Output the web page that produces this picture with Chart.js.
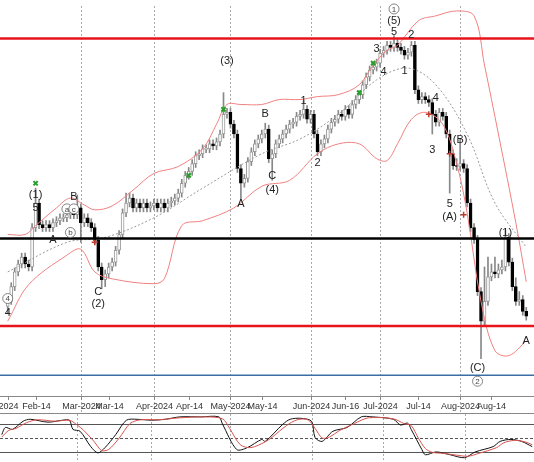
<!DOCTYPE html>
<html><head><meta charset="utf-8">
<script src="https://cdn.jsdelivr.net/npm/chart.js@4/dist/chart.umd.min.js"></script>
<style>body{margin:0;background:#fff;overflow:hidden}#a{position:absolute;left:0;top:0}#b{position:absolute;left:0;top:414px}</style>
</head><body>
<div id="a" style="width:534px;height:414px"><canvas id="c1"></canvas></div>
<div id="b" style="width:534px;height:48px"><canvas id="c2"></canvas></div>
<script>
// Price values are in chart units where larger = lower on the picture (axis reversed)
const opens =[305,300,285,270,262,255,262,265,225,200,222,225,222,225,220,218,215,215,212,210,212,205,220,215,220,225,238,265,278,272,265,260,248,232,210,200,195,205,200,205,200,205,203,200,205,200,205,200,198,195,190,180,172,168,160,152,150,145,145,140,142,138,130,110,108,120,130,165,180,175,158,148,140,135,130,125,155,150,140,135,130,125,120,118,112,110,105,115,110,130,148,140,135,125,118,115,110,112,105,110,100,95,90,80,72,65,62,58,48,45,40,42,38,42,45,50,47,40,85,95,92,95,98,110,118,108,112,130,150,162,163,160,165,200,225,237,290,320,300,275,270,272,268,265,235,260,285,300,298,310];
const closes=[300,285,270,262,255,262,265,225,200,222,225,222,225,220,218,215,215,212,210,212,205,220,215,220,225,238,265,278,272,265,260,248,232,210,200,195,205,200,205,200,205,203,200,205,200,205,200,198,195,190,180,172,168,160,152,150,145,145,140,142,138,130,110,108,120,130,165,180,175,158,148,140,135,130,125,155,150,140,135,130,125,120,118,112,110,105,115,110,130,148,140,135,125,118,115,110,112,105,110,100,95,90,80,72,65,62,58,48,45,40,42,38,42,45,50,47,40,85,95,92,95,98,110,118,108,112,130,150,162,163,160,165,200,225,237,290,320,300,275,270,272,268,265,235,260,285,300,298,310,315];
const highs =[296,281,266,258,251,251,258,221,185,196,218,218,218,216,214,211,211,208,206,206,192,201,211,211,216,221,234,261,268,261,256,244,228,206,190,190,191,196,196,196,196,199,196,196,196,196,196,194,191,186,176,168,164,156,148,146,141,141,136,136,134,126,88,104,104,116,126,161,171,154,144,136,131,126,119,121,146,136,131,126,121,116,114,108,106,96,101,106,106,126,136,131,121,114,111,106,106,101,101,96,91,86,76,68,61,58,54,44,41,36,36,30,34,38,41,43,36,36,81,88,88,91,94,106,104,104,108,126,146,155,135,156,161,196,221,233,286,265,255,262,255,262,258,228,231,256,276,290,294,306];
const lows  =[312,303,289,274,266,266,269,269,229,226,229,229,229,229,224,222,219,219,216,216,216,240,224,224,229,242,269,287,285,276,269,264,252,236,214,204,209,209,209,209,209,209,207,209,209,209,209,204,202,199,194,184,176,172,164,156,154,149,149,146,146,142,134,114,124,134,169,197,184,179,162,152,144,139,134,159,177,154,144,139,134,129,124,122,116,114,119,119,134,152,152,144,139,129,122,119,116,116,114,114,104,99,94,84,76,69,66,62,52,49,46,46,46,49,54,54,51,89,99,99,99,102,130,122,122,116,134,190,166,167,167,169,204,229,241,294,358,324,304,279,276,276,272,269,264,289,304,304,314,319];
const upperBand=[[0,232],[5,232],[8,223],[14,205],[18,195],[22,202],[25,207],[30,203],[36,187],[42,170],[49,163],[56,145],[60,120],[63,100],[67,100],[73,100],[78,95],[84,95],[89,92],[95,90],[101,80],[105,60],[109,45],[112,40],[118,15],[123,10],[129,5],[134,10],[137,60],[141,130],[146,220],[149,280]];
const lowerBand=[[0,320],[6,283],[17,253],[21,247],[25,270],[30,277],[42,282],[45,277],[50,223],[56,218],[65,205],[73,183],[81,177],[89,150],[95,140],[101,140],[106,155],[109,157],[112,140],[116,115],[120,108],[125,120],[129,160],[132,210],[136,300],[140,350],[144,355],[149,340]];
const midBand=[[0,270],[17,240],[28,235],[42,215],[56,185],[73,150],[84,135],[95,110],[106,75],[115,63],[123,80],[132,130],[140,200],[149,245]];
const levels=[{y:33,c:'#e8141c',w:2.5},{y:236,c:'#000',w:2.5},{y:325,c:'#e8141c',w:2.5},{y:375,c:'#3a6ea5',w:1.5}];
const monthIdx=[21,42,64,87,107,130];
const tickIdx=[0,8,21,29,42,52,64,73,87,97,107,118,130,139];
const tickText=['2024','Feb-14','Mar-2024','Mar-14','Apr-2024','Apr-14','May-2024','May-14','Jun-2024','Jun-16','Jul-2024','Jul-14','Aug-2024','Aug-14'];
const waveLabels=[[0,297,'4',1],[0,312,'4',0],[8,192,'(1)',0],[8,205,'5',0],[13,238,'A',0],[19,194,'B',0],[17,206,'a',1],[19,206,'c',1],[18,230,'b',1],[26,290,'C',0],[26,303,'(2)',0],[63,56,'(3)',0],[67,201,'A',0],[74,110,'B',0],[76,173,'C',0],[76,187,'(4)',0],[85,96,'1',0],[89,159,'2',0],[106,44,'3',0],[108,67,'4',0],[111,26,'5',0],[111,15,'(5)',0],[111,3,'1',1],[116,29,'2',0],[114,66,'1',0],[123,93,'4',0],[122,146,'3',0],[130,136,'(B)',0],[127,201,'5',0],[127,214,'(A)',0],[135,368,'(C)',0],[135,381,'2',1],[143,230,'(1)',0],[149,340,'A',0]];
const greenMarks=[[8,180],[52,172],[62,105],[101,88],[105,58]];
const redMarks=[[25,240],[121,110],[127,150],[131,212]];
const stochK=[[0,57],[1,72],[3,68],[6,85],[8,89],[13,83],[17,87],[19,87],[20,68],[22,64],[25,32],[27,19],[29,30],[32,57],[35,87],[38,89],[42,87],[46,89],[50,94],[56,94],[61,94],[62,79],[66,26],[69,30],[73,47],[74,43],[79,79],[81,89],[84,91],[87,85],[88,51],[90,43],[93,64],[97,72],[101,94],[104,94],[110,89],[112,77],[114,81],[115,68],[118,26],[119,15],[122,21],[126,15],[130,9],[133,21],[138,32],[140,43],[143,47],[146,43],[149,32]];
const stochD=[[0,52],[2,66],[4,70],[7,82],[10,88],[15,85],[19,87],[21,78],[23,66],[26,42],[28,24],[30,26],[33,50],[36,80],[39,88],[44,88],[50,92],[57,94],[62,90],[64,70],[67,36],[70,30],[74,42],[76,52],[80,76],[83,88],[86,88],[88,70],[90,50],[92,52],[95,66],[99,80],[103,92],[110,90],[113,80],[115,76],[117,50],[119,28],[121,20],[124,18],[128,14],[131,12],[134,18],[139,30],[141,40],[144,45],[147,42],[149,36]];

const N=closes.length;
const cats=Array.from({length:N},(_,i)=>i);
const pts=a=>a.map(p=>({x:p[0],y:p[1]}));
const isUp=i=>closes[i]<=opens[i];

const overlay={id:'ov',
 beforeDatasetsDraw(ch){const {ctx,chartArea:ca,scales:{x,y}}=ch;ctx.save();
  ctx.strokeStyle='#aaa';ctx.lineWidth=1;ctx.setLineDash([2,2]);
  monthIdx.forEach(m=>{const px=Math.round(x.getPixelForValue(m))+0.5;ctx.beginPath();ctx.moveTo(px,ca.top);ctx.lineTo(px,ch.height);ctx.stroke();});
  ctx.restore();},
 afterDatasetsDraw(ch){const {ctx,chartArea:ca,scales:{x,y}}=ch;ctx.save();
  levels.forEach(l=>{const py=y.getPixelForValue(l.y);ctx.strokeStyle=l.c;ctx.lineWidth=l.w;ctx.beginPath();ctx.moveTo(0,py);ctx.lineTo(ch.width,py);ctx.stroke();});
  ctx.textAlign='center';ctx.textBaseline='middle';
  waveLabels.forEach(w=>{const px=x.getPixelForValue(w[0]),py=y.getPixelForValue(w[1]);
   if(w[3]){ctx.font='8px Arial';ctx.fillStyle='#fff';ctx.strokeStyle='#666';ctx.lineWidth=0.8;ctx.beginPath();ctx.arc(px,py,5,0,Math.PI*2);ctx.fill();ctx.stroke();ctx.fillStyle='#444';ctx.fillText(w[2],px,py+0.5);}
   else{ctx.font='11px Arial';ctx.fillStyle='#222';ctx.fillText(w[2],px,py);}});
  ctx.strokeStyle='#888';ctx.lineWidth=1;ctx.beginPath();ctx.moveTo(0,ca.bottom+0.5);ctx.lineTo(ch.width,ca.bottom+0.5);ctx.stroke();
  ctx.beginPath();ctx.moveTo(0,ch.height-0.5);ctx.lineTo(ch.width,ch.height-0.5);ctx.stroke();
  ctx.font='9px Arial';ctx.fillStyle='#333';
  tickIdx.forEach((t,k)=>{const px=Math.round(x.getPixelForValue(t))+0.5;ctx.beginPath();ctx.moveTo(px,ca.bottom);ctx.lineTo(px,ca.bottom+4);ctx.stroke();ctx.fillText(tickText[k],px,ca.bottom+11);});
  ctx.restore();}};

new Chart(document.getElementById('c1'),{type:'bar',
 data:{labels:cats,datasets:[
  {type:'line',data:pts(upperBand),borderColor:'#f08080',borderWidth:1,pointRadius:0,tension:0.35,order:1},
  {type:'line',data:pts(lowerBand),borderColor:'#f08080',borderWidth:1,pointRadius:0,tension:0.35,order:1},
  {type:'line',data:pts(midBand),borderColor:'#999',borderWidth:1,borderDash:[2,2],pointRadius:0,tension:0.35,order:1},
  {type:'scatter',data:pts(greenMarks),pointStyle:'crossRot',borderColor:'#2a9d2a',borderWidth:2,pointRadius:3,order:0},
  {type:'scatter',data:pts(redMarks),pointStyle:'cross',borderColor:'#c0392b',borderWidth:1.5,pointRadius:3,order:0},
  {data:cats.map(i=>[Math.min(opens[i],closes[i])-(opens[i]===closes[i]?0.7:0),Math.max(opens[i],closes[i])+(opens[i]===closes[i]?0.7:0)]),
   backgroundColor:cats.map(i=>isUp(i)?'#fff':'#000'),borderColor:cats.map(i=>isUp(i)?'#999':'#000'),borderWidth:1,borderSkipped:false,barThickness:3,grouped:false,order:2},
  {data:cats.map(i=>[highs[i],lows[i]]),backgroundColor:'#888',barThickness:1,grouped:false,order:3}
 ]},
 options:{animation:false,responsive:true,maintainAspectRatio:false,events:[],
  layout:{padding:{left:0,right:0,top:0,bottom:18}},
  plugins:{legend:{display:false},tooltip:{enabled:false}},
  scales:{
   x:{type:'category',offset:true,display:false},
   y:{display:false,reverse:true,min:0,max:396}
  }},
 plugins:[overlay]});

const osc={id:'osc',beforeDatasetsDraw(ch){const {ctx,chartArea:ca,scales:{x,y}}=ch;ctx.save();
  [[80,[]],[50,[3,2]],[20,[]]].forEach(l=>{const py=Math.round(y.getPixelForValue(l[0]))+0.5;ctx.strokeStyle='#555';ctx.lineWidth=1;ctx.setLineDash(l[1]);ctx.beginPath();ctx.moveTo(0,py);ctx.lineTo(ch.width,py);ctx.stroke();});
  ctx.setLineDash([2,2]);ctx.strokeStyle='#aaa';
  monthIdx.forEach(m=>{const px=Math.round(x.getPixelForValue(m))+0.5;ctx.beginPath();ctx.moveTo(px,0);ctx.lineTo(px,ch.height);ctx.stroke();});
  ctx.restore();}};
new Chart(document.getElementById('c2'),{type:'line',
 data:{labels:cats,datasets:[
  {data:pts(stochD),borderColor:'#d9534f',borderWidth:1,pointRadius:0,tension:0.3},
  {data:pts(stochK),borderColor:'#111',borderWidth:1,pointRadius:0,tension:0.3}]},
 options:{animation:false,responsive:true,maintainAspectRatio:false,events:[],layout:{padding:0},
  plugins:{legend:{display:false},tooltip:{enabled:false}},
  scales:{x:{type:'category',offset:true,display:false},y:{display:false,min:0,max:100}}},
 plugins:[osc]});
</script></body></html>
